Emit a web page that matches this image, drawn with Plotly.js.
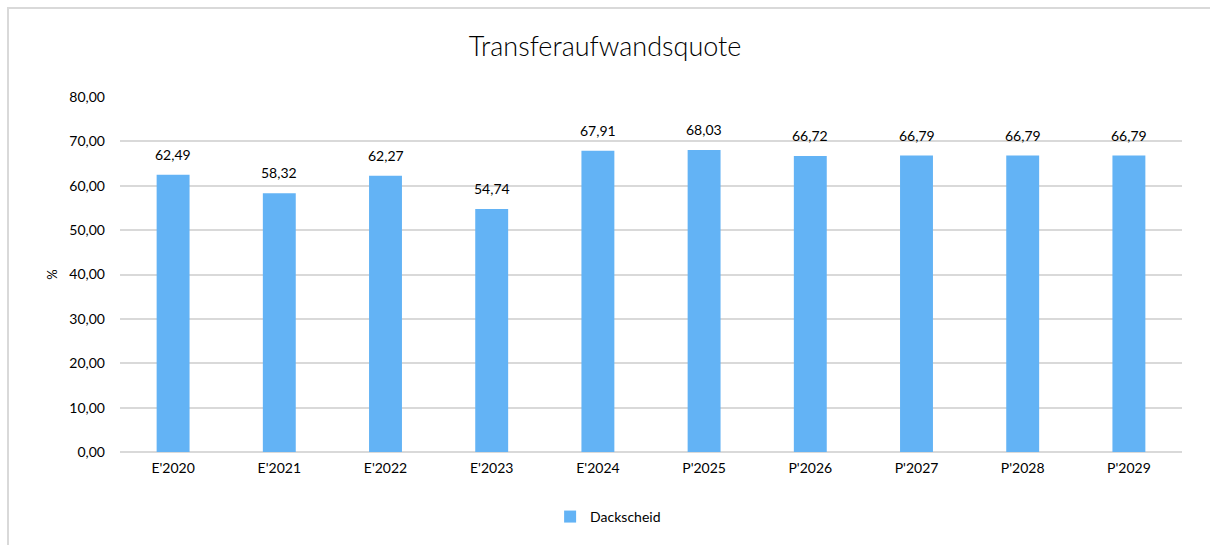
<!DOCTYPE html>
<html>
<head>
<meta charset="utf-8">
<script src="https://cdn.plot.ly/plotly-3.0.1.min.js"></script>
<style>
html,body{margin:0;padding:0;background:#fff;}
#wrap{position:relative;width:1210px;height:545px;overflow:hidden;}
#chart{width:1210px;height:545px;}
#frame{position:absolute;left:7px;top:7px;width:1210px;height:600px;border-left:2px solid #d9d9d9;border-top:2px solid #d9d9d9;pointer-events:none;}
</style>
</head>
<body>
<div id="wrap"><div id="chart"></div><div id="frame"></div></div>
<script>
const categories = ["E'2020","E'2021","E'2022","E'2023","E'2024","P'2025","P'2026","P'2027","P'2028","P'2029"];
const values = [62.49, 58.32, 62.27, 54.74, 67.91, 68.03, 66.72, 66.79, 66.79, 66.79];
const seriesName = "Dackscheid";
const yTicks = [0,10,20,30,40,50,60,70,80];

const fmt = v => v.toFixed(2).replace('.', ',');
const FONT = "Lato, 'Open Sans', sans-serif";

const trace = {
  type: 'bar',
  x: categories,
  y: values,
  name: seriesName,
  marker: {color: '#63b3f5'},
  hoverinfo: 'x+y'
};

const annotations = categories.map((c, i) => ({
  x: c, y: values[i], xref: 'x', yref: 'y',
  text: fmt(values[i]), showarrow: false,
  yanchor: 'bottom', yshift: 10,
  font: {family: FONT, size: 14, color: '#000'}
}));

const layout = {
  width: 1210, height: 545,
  margin: {l: 120, r: 28, t: 97, b: 93},
  paper_bgcolor: '#fff', plot_bgcolor: '#fff',
  separators: ',.',
  title: {text: 'Transferaufwandsquote', x: 0.5, xanchor: 'center', y: 1 - 47/545, yanchor: 'middle', font: {family: FONT, size: 27, weight: 300, color: '#000'}},
  bargap: 0.69,
  showlegend: true,
  legend: {orientation: 'h', x: 0.405, xanchor: 'left', y: -0.183, yanchor: 'middle', font: {family: FONT, size: 14, color: '#000'}},
  xaxis: {
    type: 'category', showgrid: false, zeroline: false, showline: false,
    tickfont: {family: FONT, size: 14, color: '#000'}, ticks: '', ticklabelstandoff: 6
  },
  yaxis: {
    range: [0, 80], tickvals: yTicks, tickformat: '.2f',
    showgrid: true, gridcolor: '#d9d9d9', gridwidth: 2,
    zeroline: true, zerolinecolor: '#d9d9d9', zerolinewidth: 2,
    showline: false, ticks: '', ticklabelstandoff: 14,
    tickfont: {family: FONT, size: 14, color: '#000'},
    title: {text: '%', font: {family: FONT, size: 13, color: '#000'}, standoff: 8}
  },
  annotations: annotations
};

Plotly.newPlot('chart', [trace], layout, {displayModeBar: false, staticPlot: true});
</script>
</body>
</html>
